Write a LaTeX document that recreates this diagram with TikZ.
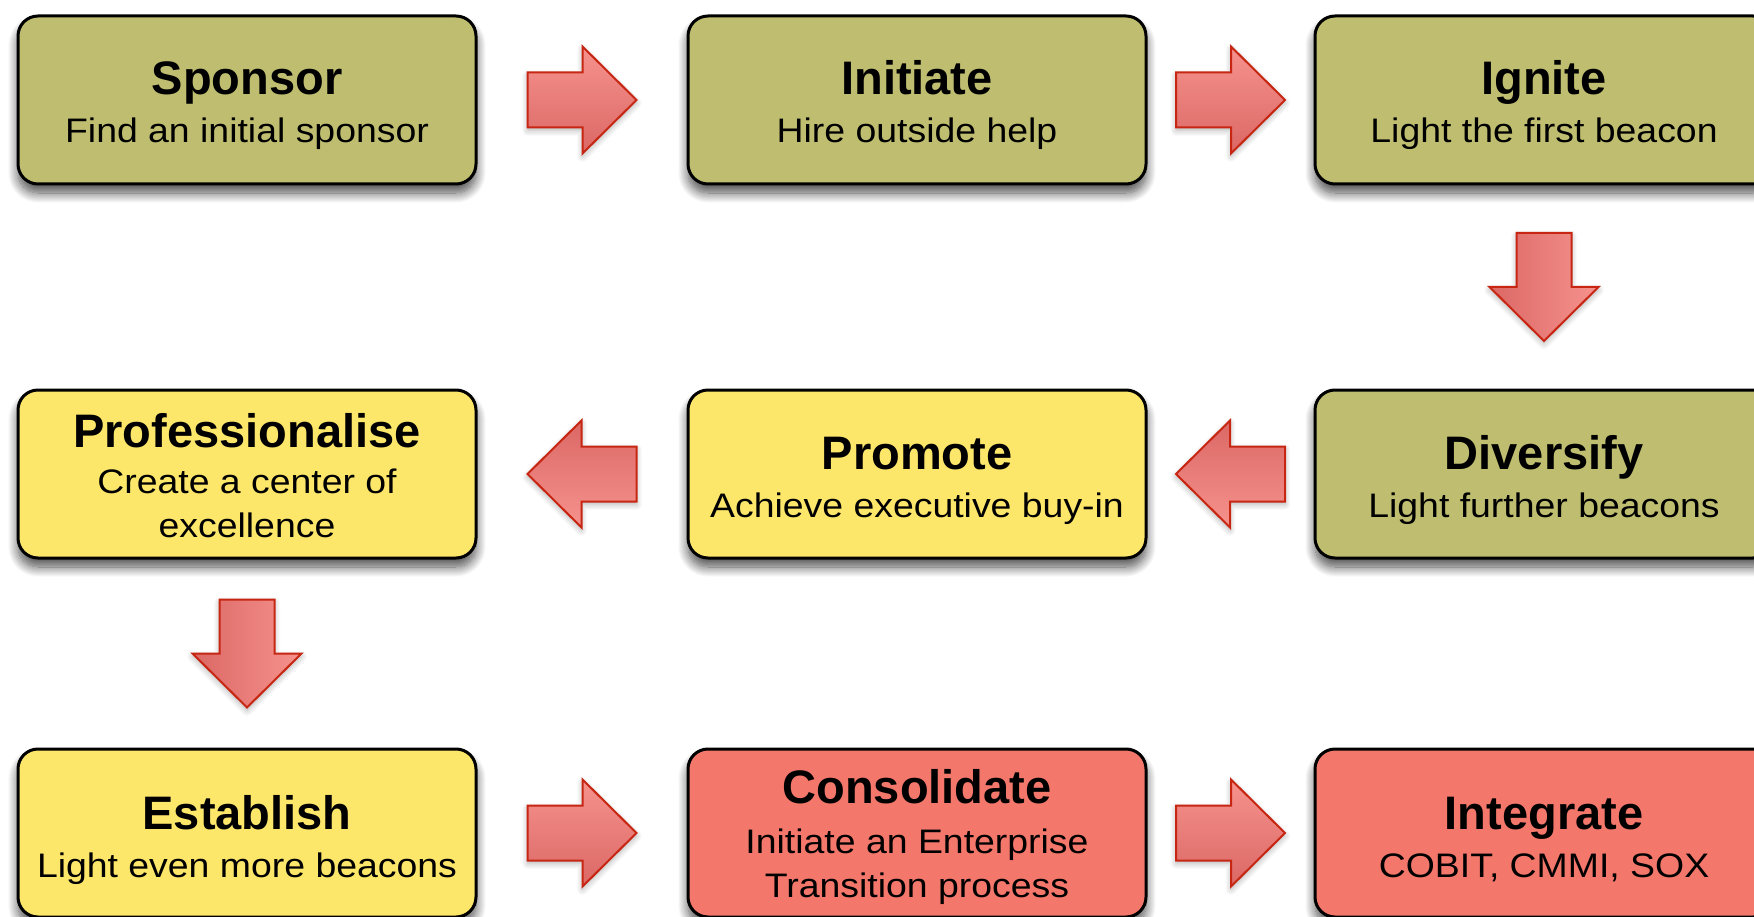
\documentclass[tikz,border=0pt]{standalone}
\usepackage{fontspec}
\setmainfont{Liberation Sans}
\newfontfamily\subfont[FakeStretch=1.1]{Liberation Sans}
\usetikzlibrary{calc,shadows.blur}

\definecolor{boxolive}{RGB}{191,190,112}
\definecolor{boxyellow}{RGB}{253,231,107}
\definecolor{boxsalmon}{RGB}{243,119,107}
\definecolor{arrowedge}{RGB}{198,38,18}
\definecolor{arrowlight}{RGB}{246,146,141}
\definecolor{arrowdark}{RGB}{219,104,101}

\tikzset{
  stepbox/.style={draw=black, line width=3pt, rounded corners=20pt,
    minimum width=458pt, minimum height=168pt, inner sep=0pt,
    blur shadow={shadow xshift=0pt, shadow yshift=-9pt,
      shadow blur radius=10pt, shadow opacity=70, shadow blur steps=14}},
  steptitle/.style={anchor=base, inner sep=0pt,
    font=\fontsize{47}{56}\selectfont\bfseries},
  stepsub/.style={anchor=base, inner sep=0pt,
    font=\fontsize{34}{44}\selectfont\subfont},
  arrowbody/.style={draw=arrowedge, line width=2pt, line join=miter,
    blur shadow={shadow xshift=0pt, shadow yshift=-3pt,
      shadow blur radius=6pt, shadow opacity=30, shadow blur steps=8}},
  pics/arrowright/.style={code={
    \path[arrowbody, top color=arrowlight, bottom color=arrowdark]
      (-54.5,-27.5) -- (0.5,-27.5) -- (0.5,-53.5) -- (54.5,0)
      -- (0.5,53.5) -- (0.5,27.5) -- (-54.5,27.5) -- cycle;}},
  pics/arrowleft/.style={code={
    \path[arrowbody, top color=arrowdark, bottom color=arrowlight]
      (54.5,-27.5) -- (-0.5,-27.5) -- (-0.5,-53.5) -- (-54.5,0)
      -- (-0.5,53.5) -- (-0.5,27.5) -- (54.5,27.5) -- cycle;}},
  pics/arrowdown/.style={code={
    \path[arrowbody, left color=arrowdark, right color=arrowlight]
      (-27.5,-54) -- (-27.5,0) -- (-54.5,0) -- (0,54)
      -- (54.5,0) -- (27.5,0) -- (27.5,-54) -- cycle;}},
}

\begin{document}
\begin{tikzpicture}[x=1pt, y=-1pt]
\useasboundingbox (0,0) rectangle (1754,917);
\clip (0,0) rectangle (1754,917);

% the nine steps
\node[stepbox, fill=boxolive]  (sponsor)  at (247,100) {};
\node[stepbox, fill=boxolive]  (initiate) at (917,100) {};
\node[stepbox, fill=boxolive]  (ignite)   at (1544,100) {};
\node[stepbox, fill=boxyellow] (prof)     at (247,474) {};
\node[stepbox, fill=boxyellow] (promote)  at (917,474) {};
\node[stepbox, fill=boxolive]  (diversify) at (1544,474) {};
\node[stepbox, fill=boxyellow] (establish) at (247,833) {};
\node[stepbox, fill=boxsalmon] (consol)   at (917,833) {};
\node[stepbox, fill=boxsalmon] (integrate) at (1544,833) {};

% titles and descriptions
\node[steptitle] (sponsor-t) at ([yshift=5pt]sponsor.center) {Sponsor};
\node[stepsub]   (sponsor-s) at ([yshift=-43pt]sponsor.center) {Find an initial sponsor};
\node[steptitle] (initiate-t) at ([yshift=5pt]initiate.center) {Initiate};
\node[stepsub]   (initiate-s) at ([yshift=-43pt]initiate.center) {Hire outside help};
\node[steptitle] (ignite-t) at ([yshift=5pt]ignite.center) {Ignite};
\node[stepsub]   (ignite-s) at ([yshift=-43pt]ignite.center) {Light the first beacon};

\node[steptitle] (prof-t)  at ([yshift=27pt]prof.center) {Professionalise};
\node[stepsub]   (prof-s1) at ([yshift=-19pt]prof.center) {Create a center of};
\node[stepsub]   (prof-s2) at ([yshift=-63pt]prof.center) {excellence};
\node[steptitle] (promote-t) at ([yshift=5pt]promote.center) {Promote};
\node[stepsub]   (promote-s) at ([yshift=-43pt]promote.center) {Achieve executive buy-in};
\node[steptitle] (diversify-t) at ([yshift=5pt]diversify.center) {Diversify};
\node[stepsub]   (diversify-s) at ([yshift=-43pt]diversify.center) {Light further beacons};

\node[steptitle] (establish-t) at ([yshift=4pt]establish.center) {Establish};
\node[stepsub]   (establish-s) at ([yshift=-44pt]establish.center) {Light even more beacons};
\node[steptitle] (consol-t)  at ([yshift=30pt]consol.center) {Consolidate};
\node[stepsub]   (consol-s1) at ([yshift=-20pt]consol.center) {Initiate an Enterprise};
\node[stepsub]   (consol-s2) at ([yshift=-64pt]consol.center) {Transition process};
\node[steptitle] (integrate-t) at ([yshift=4pt]integrate.center) {Integrate};
\node[stepsub]   (integrate-s) at ([yshift=-44pt]integrate.center) {COBIT, CMMI, SOX};

% block arrows between consecutive steps
\pic (a1) at ($(sponsor.east)!0.5!(initiate.west)$) {arrowright};
\pic (a2) at ($(initiate.east)!0.5!(ignite.west)$) {arrowright};
\pic (a3) at ($(ignite.south)!0.5!(diversify.north)$) {arrowdown};
\pic (a4) at ($(diversify.west)!0.5!(promote.east)$) {arrowleft};
\pic (a5) at ($(promote.west)!0.5!(prof.east)$) {arrowleft};
\pic (a6) at ($(prof.south)!0.5!(establish.north)$) {arrowdown};
\pic (a7) at ($(establish.east)!0.5!(consol.west)$) {arrowright};
\pic (a8) at ($(consol.east)!0.5!(integrate.west)$) {arrowright};
\end{tikzpicture}
\end{document}
